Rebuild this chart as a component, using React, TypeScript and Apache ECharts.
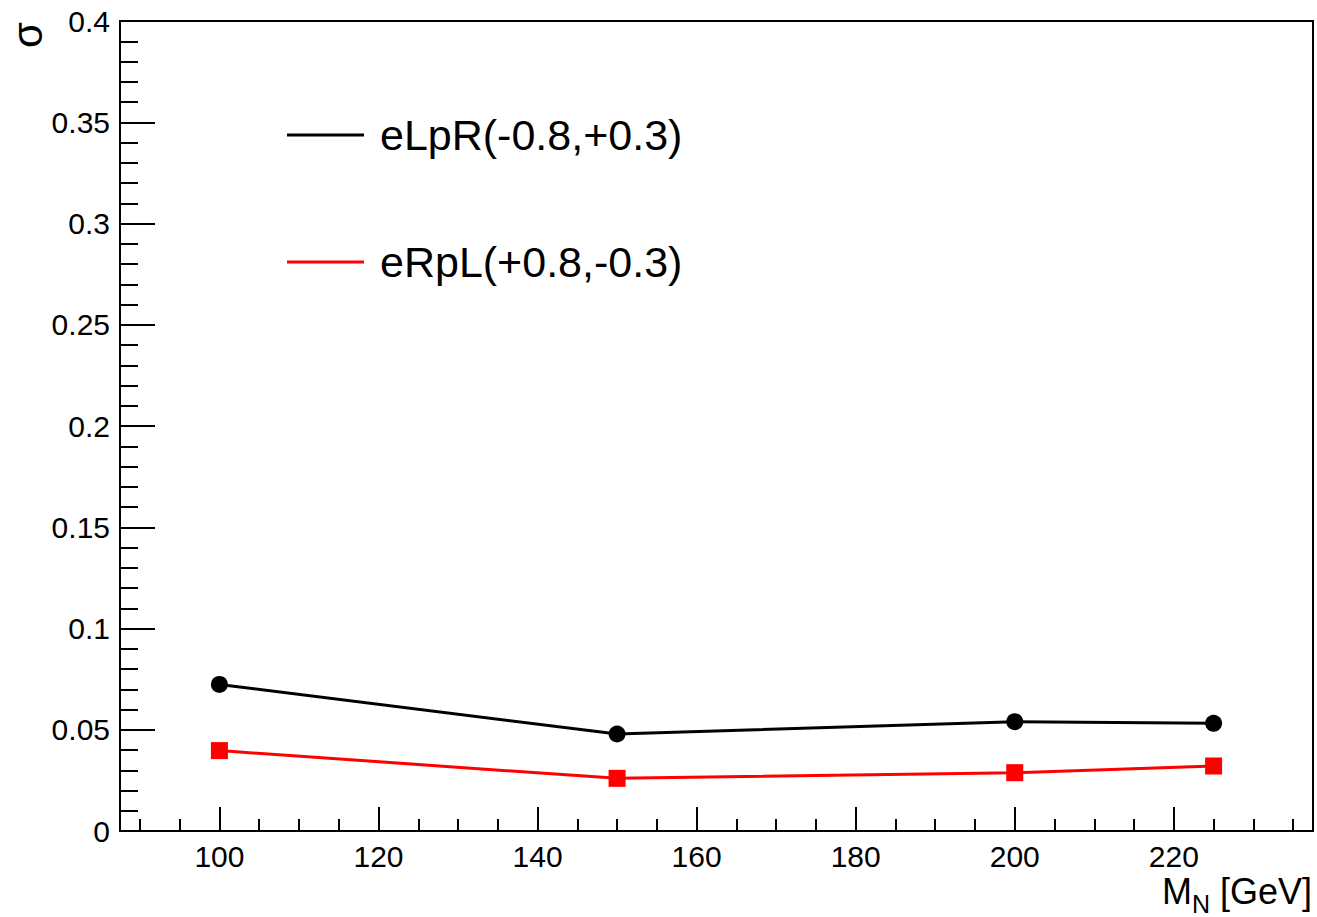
import React, { useEffect, useRef } from "react";
import * as echarts from "echarts";

const massPoints = [100, 150, 200, 225];
const eLpRValues = [0.0724, 0.0479, 0.054, 0.0532];
const eRpLValues = [0.0397, 0.026, 0.0288, 0.0321];
const seriesNames = ["eLpR(-0.8,+0.3)", "eRpL(+0.8,-0.3)"];
const majorXTicks = [100, 120, 140, 160, 180, 200, 220];
const minorXTicks = [90, 95, 100, 105, 110, 115, 120, 125, 130, 135, 140, 145, 150, 155, 160, 165, 170, 175, 180, 185, 190, 195, 200, 205, 210, 215, 220, 225, 230, 235];

const FONT = "'Liberation Sans', Arial, Helvetica, sans-serif";

export default function App() {
  const ref = useRef<HTMLDivElement>(null);
  useEffect(() => {
    if (!ref.current) return;
    const chart = echarts.init(ref.current, undefined, { renderer: "svg" });
    const axisBase = {
      type: "value" as const,
      min: 87.5,
      max: 237.5,
      position: "bottom" as const,
      splitLine: { show: false },
    };
    chart.setOption({
      animation: false,
      backgroundColor: "#ffffff",
      textStyle: { fontFamily: FONT },
      grid: {
        left: 120,
        top: 21,
        right: 4,
        bottom: 86,
        show: true,
        borderColor: "#000",
        borderWidth: 2,
        containLabel: false,
      },
      legend: {
        orient: "vertical",
        left: 287,
        top: 110,
        padding: 0,
        itemGap: 77,
        itemWidth: 77,
        itemHeight: 3,
        icon: "rect",
        data: seriesNames,
        textStyle: {
          fontFamily: FONT,
          fontSize: 43,
          lineHeight: 50,
          color: "#000",
          padding: [0, 0, 0, 11],
        },
      },
      xAxis: [
        {
          ...axisBase,
          axisLine: { show: true, lineStyle: { color: "#000", width: 2 } },
          axisTick: {
            show: true,
            inside: true,
            length: 24,
            lineStyle: { color: "#000", width: 2 },
            customValues: majorXTicks,
          },
          axisLabel: {
            show: true,
            customValues: majorXTicks,
            fontFamily: FONT,
            fontSize: 30,
            color: "#000",
            margin: 10,
          },
        },
        {
          ...axisBase,
          axisLine: { show: false },
          axisTick: {
            show: true,
            inside: true,
            length: 12,
            lineStyle: { color: "#000", width: 2 },
            customValues: minorXTicks,
          },
          axisLabel: { show: false },
        },
      ],
      yAxis: {
        type: "value",
        min: 0,
        max: 0.4,
        interval: 0.05,
        splitLine: { show: false },
        axisLine: { show: true, lineStyle: { color: "#000", width: 2 } },
        axisTick: {
          show: true,
          inside: true,
          length: 35,
          lineStyle: { color: "#000", width: 2 },
        },
        minorTick: {
          show: true,
          splitNumber: 5,
          length: 18,
          lineStyle: { color: "#000", width: 2 },
        },
        axisLabel: {
          fontFamily: FONT,
          fontSize: 30,
          color: "#000",
          margin: 10,
        },
      },
      graphic: [
        {
          type: "text",
          x: 27,
          y: 35,
          rotation: Math.PI / 2,
          style: {
            text: "σ",
            fontFamily: FONT,
            fontSize: 42,
            fill: "#000",
            align: "center",
            verticalAlign: "middle",
          },
        },
        {
          type: "text",
          x: 1312,
          y: 891,
          style: {
            text: "{m|M}{n|N}{g| [GeV]}",
            align: "right",
            verticalAlign: "middle",
            fill: "#000",
            rich: {
              m: { fontFamily: FONT, fontSize: 36, lineHeight: 36, fill: "#000", verticalAlign: "middle" },
              n: { fontFamily: FONT, fontSize: 25, lineHeight: 50, fill: "#000", verticalAlign: "bottom" },
              g: { fontFamily: FONT, fontSize: 36, lineHeight: 36, fill: "#000", verticalAlign: "middle" },
            },
          },
        },
      ],
      series: [
        {
          name: seriesNames[0],
          type: "line",
          xAxisIndex: 0,
          data: massPoints.map((m, i) => [m, eLpRValues[i]]),
          symbol: "circle",
          symbolSize: 17,
          color: "#000000",
          lineStyle: { color: "#000000", width: 3 },
          itemStyle: { color: "#000000" },
        },
        {
          name: seriesNames[1],
          type: "line",
          xAxisIndex: 0,
          data: massPoints.map((m, i) => [m, eRpLValues[i]]),
          symbol: "rect",
          symbolSize: 17,
          color: "#ff0000",
          lineStyle: { color: "#ff0000", width: 3 },
          itemStyle: { color: "#ff0000" },
        },
      ],
    });
    return () => chart.dispose();
  }, []);
  return (
    <div
      ref={ref}
      style={{ position: "absolute", left: 0, top: 0, width: 1317, height: 917, background: "#fff" }}
    />
  );
}
